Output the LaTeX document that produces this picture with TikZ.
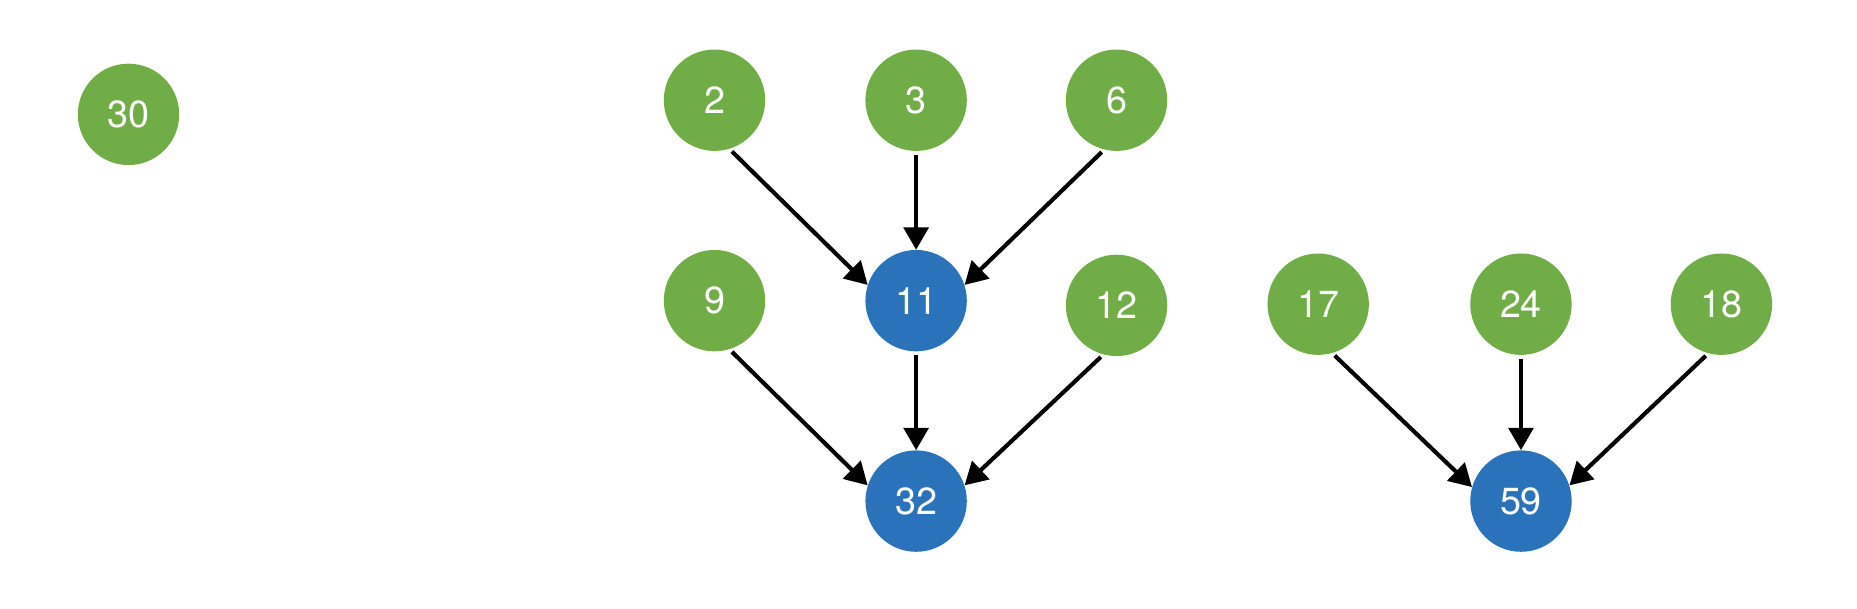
\documentclass[tikz,border=0pt]{standalone}
\usepackage{fontspec}
\setmainfont{TeX Gyre Heros}
\usetikzlibrary{arrows.meta}
\definecolor{leafgreen}{HTML}{70AD47}
\definecolor{rootblue}{HTML}{2A73BA}
\begin{document}
\begin{tikzpicture}[x=1pt,y=-1pt,
  vert/.style={circle,minimum size=86pt,inner sep=0pt,text=white,
    font=\fontsize{32}{34}\selectfont},
  leaf/.style={vert,fill=leafgreen},
  root/.style={vert,fill=rootblue},
  link/.style={line width=3.5pt,-{Triangle[length=19pt,width=21pt]},shorten <=3pt}]
\useasboundingbox (0,0) rectangle (1575,516);
\node[leaf] (n30) at (109,97) {30};
\node[leaf] (n2) at (606,85) {2};
\node[leaf] (n3) at (777,85) {3};
\node[leaf] (n6) at (947,85) {6};
\node[leaf] (n9) at (606,255) {9};
\node[root] (n11) at (777,255) {11};
\node[leaf] (n12) at (947,259) {12};
\node[root] (n32) at (777,425) {32};
\node[leaf] (n17) at (1118,258) {17};
\node[leaf] (n24) at (1290,258) {24};
\node[leaf] (n18) at (1460,258) {18};
\node[root] (n59) at (1290,425) {59};
\draw[link] (n2.-73) -- (n11.162);
\draw[link] (n3.south) -- (n11.north);
\draw[link] (n6.-104) -- (n11.18);
\draw[link] (n9.-73) -- (n32.162);
\draw[link] (n11.south) -- (n32.north);
\draw[link] (n12.-105) -- (n32.18);
\draw[link] (n17.-74) -- (n59.164);
\draw[link] (n24.south) -- (n59.north);
\draw[link] (n18.-105) -- (n59.18);
\end{tikzpicture}
\end{document}
